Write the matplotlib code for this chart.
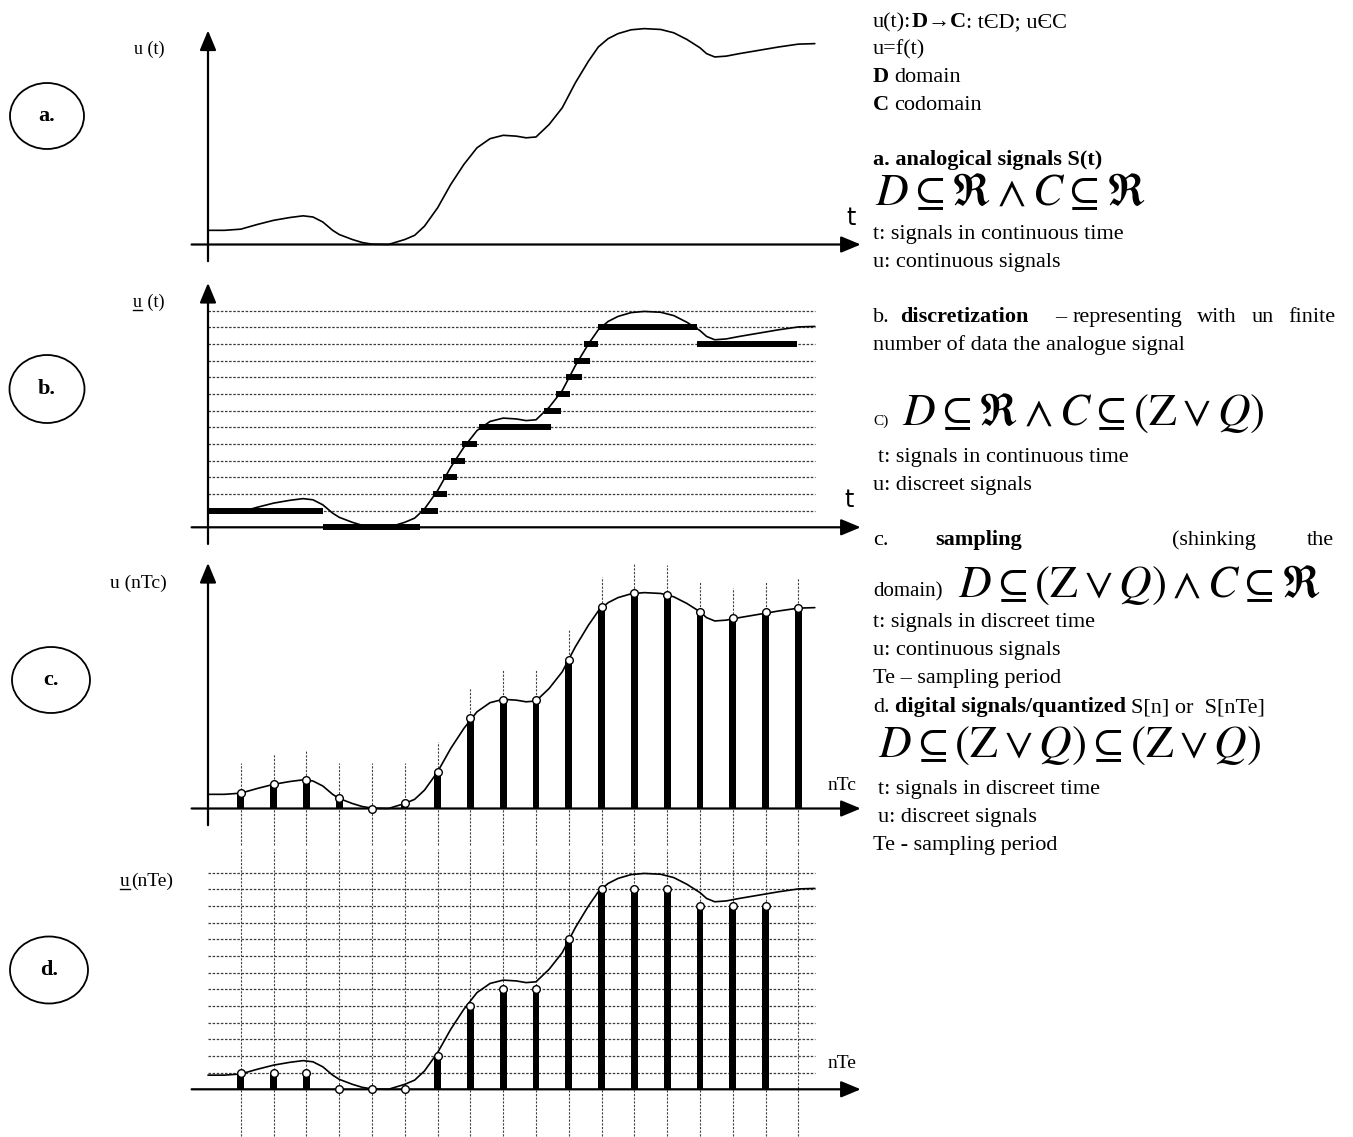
import matplotlib
matplotlib.use('Agg')
import matplotlib.pyplot as plt
from matplotlib.patches import Ellipse

plt.rcParams['font.family'] = ['Liberation Serif', 'DejaVu Serif']
plt.rcParams['mathtext.fontset'] = 'stix'

# continuous signal u(t): t in sampling periods, u in quantization steps
curve_t = [0, 0.5, 1.0, 1.5, 2.0, 2.5, 2.9, 3.2, 3.5, 3.8, 4.0, 4.4, 4.7, 5.0, 5.5, 6.0, 6.3,
           6.6, 7.0, 7.4, 7.8, 8.2, 8.6, 9.0, 9.4, 9.7, 10.0, 10.4, 10.8, 11.2, 11.6, 11.9, 12.2,
           12.5, 12.9, 13.3, 13.8, 14.2, 14.6, 15.0, 15.2, 15.45, 15.8, 16.2, 16.8, 17.4, 18.0, 18.5]
curve_u = [0.85, 0.85, 0.92, 1.2, 1.45, 1.62, 1.72, 1.65, 1.35, 0.85, 0.6, 0.3, 0.12, 0.02, 0.0, 0.3, 0.55,
           1.1, 2.2, 3.6, 4.8, 5.8, 6.35, 6.55, 6.5, 6.4, 6.45, 7.2, 8.2, 9.7, 11.0, 11.85, 12.35,
           12.65, 12.88, 12.95, 12.9, 12.7, 12.3, 11.8, 11.45, 11.25, 11.3, 11.45, 11.65, 11.85, 12.02, 12.05]

# (b) discretized signal: level held from start to end
disc_start = [0, 3.5, 6.5, 6.85, 7.15, 7.4, 7.75, 8.25, 10.25, 10.6, 10.9, 11.15, 11.45, 11.9, 14.9]
disc_end = [3.5, 6.45, 7.0, 7.3, 7.6, 7.85, 8.2, 10.45, 10.75, 11.05, 11.4, 11.65, 11.9, 14.9, 17.95]
disc_level = [1, 0, 1, 2, 3, 4, 5, 6, 7, 8, 9, 10, 11, 12, 11]

# (c) samples u(nTe) and (d) quantized samples
sample_n = list(range(1, 19))
sample_u = [0.9, 1.45, 1.7, 0.6, 0.0, 0.35, 2.2, 5.4, 6.5, 6.5, 8.9, 12.1, 12.9, 12.8, 11.8, 11.4, 11.8, 12.05]
quant_n = list(range(1, 18))
quant_u = [1, 1, 1, 0, 0, 0, 2, 5, 6, 6, 9, 12, 12, 12, 11, 11, 11]
grid_levels = list(range(1, 14))

W, H = 1353, 1137
ORIGIN_X, TE_PX, LEVEL_PX = 208, 32.8, 16.67
X0, X1 = 100, 875

fig = plt.figure(figsize=(W / 100, H / 100), dpi=100)
ax0 = fig.add_axes([0, 0, 1, 1])
ax0.set_xlim(0, W)
ax0.set_ylim(H, 0)
ax0.axis('off')


def panel(top, bottom, row):
    ax = fig.add_axes([X0 / W, 1 - bottom / H, (X1 - X0) / W, (bottom - top) / H])
    ax.set_xlim((X0 - ORIGIN_X) / TE_PX, (X1 - ORIGIN_X) / TE_PX)
    ax.set_ylim((row - bottom) / LEVEL_PX, (row - top) / LEVEL_PX)
    ax.axis('off')
    return ax


def arrows(ax, y_tip, x_tip=19.9, x_start=-0.5, y_start=-1.0):
    props = dict(arrowstyle='-|>,head_length=0.6,head_width=0.25', lw=1.6, color='black',
                 mutation_scale=20, shrinkA=0, shrinkB=0)
    ax.annotate('', xy=(x_tip, 0), xytext=(x_start, 0), arrowprops=props)
    ax.annotate('', xy=(0, y_tip), xytext=(0, y_start), arrowprops=props)


def signal(ax):
    ax.plot(curve_t, curve_u, color='black', lw=1.2, zorder=3,
            solid_joinstyle='round', solid_capstyle='round')


dots = (0, (2, 1.3))

# a. analog
ax_a = panel(20, 275, 244.5)
arrows(ax_a, 12.84)
signal(ax_a)

# b. discretization
ax_b = panel(275, 545, 527.3)
ax_b.hlines(grid_levels, 0, 18.5, colors='#3a3a3a', linestyles=dots, lw=0.9)
arrows(ax_b, 14.66)
signal(ax_b)
ax_b.hlines(disc_level, disc_start, disc_end, colors='black', lw=4.3, capstyle='butt', zorder=4)

# c. sampling
ax_c = panel(545, 850, 808.5)
tops = [max(v + 1.8, 2.7) for v in sample_u]
ax_c.vlines(sample_n, -2.2, tops, colors='#444444', linestyles=dots, lw=0.8)
arrows(ax_c, 14.73)
ax_c.bar(sample_n, sample_u, width=0.21, color='black', zorder=2)
signal(ax_c)
ax_c.plot(sample_n, sample_u, 'o', ms=5.5, mfc='white', mec='black', mew=1, zorder=4)

# d. quantized
ax_d = panel(845, 1137, 1089.3)
ax_d.hlines(grid_levels, 0, 18.5, colors='#3a3a3a', linestyles=dots, lw=0.9)
ax_d.vlines(sample_n, -2.8, 14.4, colors='#444444', linestyles=dots, lw=0.8)
arrows(ax_d, 14.78)
ax_d.bar(quant_n, quant_u, width=0.21, color='black', zorder=2)
signal(ax_d)
ax_d.plot(quant_n, quant_u, 'o', ms=5.5, mfc='white', mec='black', mew=1, zorder=4)

# circled panel letters
for cx, cy, w, h, s in [(47, 116, 74, 66, 'a.'), (47, 389, 75, 68, 'b.'),
                        (51, 680, 78, 66, 'c.'), (49, 970, 78, 67, 'd.')]:
    ax0.add_patch(Ellipse((cx, cy), w, h, fill=False, lw=1.3, color='black'))
    ax0.text(cx, cy, s, fontsize=16, fontweight='bold', ha='center', va='center')

renderer = fig.canvas.get_renderer()


def underlined(x, y, first, rest, size=13):
    t = ax0.text(x, y, first, fontsize=size, va='baseline', ha='left')
    bb = t.get_window_extent(renderer)
    ax0.plot([bb.x0, bb.x1], [y + 3, y + 3], color='black', lw=1)
    ax0.text(bb.x1 + 1, y, rest, fontsize=size, va='baseline', ha='left')


# axis labels
ax0.text(134, 54, 'u (t)', fontsize=13, va='baseline')
underlined(133, 307, 'u', ' (t)')
ax0.text(110, 588, 'u (nTc)', fontsize=14, va='baseline')
underlined(120, 886, 'u', '(nTe)', size=14)
ax0.text(851, 218, 't', fontsize=17, family='DejaVu Sans', ha='center', va='center')
ax0.text(849, 500, 't', fontsize=17, family='DejaVu Sans', ha='center', va='center')
ax0.text(842, 785, 'nTc', fontsize=14, ha='center', va='center')
ax0.text(842, 1063, 'nTe', fontsize=14, ha='center', va='center')

# right-hand notes
FS = 16


def line(x, y, parts, size=FS):
    for s, bold, gap in parts:
        t = ax0.text(x, y, s, fontsize=size, fontweight='bold' if bold else 'normal',
                     va='baseline', ha='left')
        x = t.get_window_extent(renderer).x1 + gap


def words(y, items, size=FS):
    for x, s, bold in items:
        ax0.text(x, y, s, fontsize=size, fontweight='bold' if bold else 'normal',
                 va='baseline', ha='left')


def math(x, y, s, size=32.5):
    ax0.text(x, y, s, fontsize=size, va='baseline', ha='left')


TX = 873
line(TX, 27, [('u(t):', False, 0), ('D', True, 0), ('\u2192', False, 0), ('C', True, 0),
              (': t\u0404D; u\u0404C', False, 0)])
line(TX, 54, [('u=f(t)', False, 0)])
line(TX, 82, [('D', True, 5), ('domain', False, 0)])
line(TX, 110, [('C', True, 5), ('codomain', False, 0)])
line(TX, 165, [('a. analogical signals S(t)', True, 0)])
math(875, 205, r'$D \subseteq \Re \wedge C \subseteq \Re$')
line(TX, 239, [('t: signals in continuous time', False, 0)])
line(TX, 267, [('u: continuous signals', False, 0)])

words(322, [(TX, 'b.', False), (900, 'discretization', True), (1055, '\u2013', False),
            (1073, 'representing', False), (1197, 'with', False), (1252, 'un', False),
            (1288, 'finite', False)])
line(TX, 350, [('number of data the analogue signal', False, 0)])
ax0.text(TX, 425, 'C)', fontsize=11, va='baseline')
math(902, 425, r'$D \subseteq \Re \wedge C \subseteq (\mathrm{Z} \vee Q)$')
line(878, 462, [('t: signals in continuous time', False, 0)])
line(TX, 490, [('u: discreet signals', False, 0)])

words(545, [(TX, 'c.', False), (935, 'sampling', True), (1172, '(shinking', False),
            (1307, 'the', False)])
ax0.text(TX, 596, 'domain)', fontsize=15, va='baseline')
math(958, 597, r'$D \subseteq (\mathrm{Z} \vee Q) \wedge C \subseteq \Re$')
line(TX, 627, [('t: signals in discreet time', False, 0)])
line(TX, 655, [('u: continuous signals', False, 0)])
line(TX, 683, [('Te \u2013 sampling period', False, 0)])
line(TX, 712, [('d.', False, 5), ('digital signals/quantized', True, 5), ('S[n] or  S[nTe]', False, 0)])
math(878, 757, r'$D \subseteq (\mathrm{Z} \vee Q) \subseteq (\mathrm{Z} \vee Q)$')
line(878, 794, [('t: signals in discreet time', False, 0)])
line(878, 822, [('u: discreet signals', False, 0)])
line(TX, 850, [('Te - sampling period', False, 0)])

fig.savefig('out.png', dpi=100)
